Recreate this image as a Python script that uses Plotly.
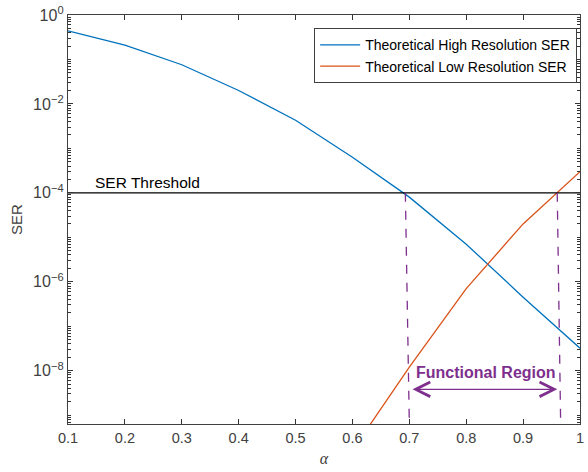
import plotly.graph_objects as go

alpha = [0.1, 0.2, 0.3, 0.4, 0.5, 0.6, 0.7, 0.8, 0.9, 1.0]
ser_high = [4.4e-1, 2.1e-1, 7.6e-2, 2.0e-2, 4.3e-3, 6.3e-4, 8.0e-5, 7.0e-6, 4.5e-7, 3.2e-8]
alpha_low = [0.6, 0.7, 0.8, 0.9, 1.0]
ser_low = [1.6e-10, 1.2e-8, 7.0e-7, 2.0e-5, 3.0e-4]
threshold = 1e-4
region_left = [0.693, 0.700]
region_right = [0.960, 0.966]
arrow_log_y = -8.42
label_log_y = -8.04

blue = "#0072BD"
orange = "#D95319"
purple = "#7E2F8E"
axc = "#404040"

fig = go.Figure()
fig.add_trace(go.Scatter(x=alpha, y=ser_high, mode="lines", line=dict(color=blue, width=1.3),
                         name="Theoretical High Resolution SER"))
fig.add_trace(go.Scatter(x=alpha_low, y=ser_low, mode="lines", line=dict(color=orange, width=1.3),
                         name="Theoretical Low Resolution SER"))
fig.add_trace(go.Scatter(x=[alpha[0], alpha[-1]], y=[threshold, threshold], mode="lines",
                         line=dict(color="black", width=1.1), showlegend=False))
for xs in (region_left, region_right):
    fig.add_trace(go.Scatter(x=xs, y=[threshold, 10 ** -9.2], mode="lines",
                             line=dict(color=purple, width=1.3, dash="dash"), showlegend=False))

fig.add_annotation(x=region_right[0], y=arrow_log_y, ax=region_left[1] + 0.003, ay=arrow_log_y,
                   xref="x", yref="y", axref="x", ayref="y", text="",
                   showarrow=True, arrowhead=5, startarrowhead=5, arrowside="end+start",
                   arrowsize=2.2, startarrowsize=2.2,
                   arrowwidth=1.3, arrowcolor=purple)
fig.add_annotation(x=0.834, y=label_log_y, xref="x", yref="y", text="<b>Functional Region</b>",
                   showarrow=False, font=dict(color=purple, size=16, family="Liberation Sans"))
fig.add_annotation(x=0.144, y=-4.0, xref="x", yref="y", text="SER Threshold", xanchor="left",
                   yanchor="bottom", showarrow=False,
                   font=dict(color="black", size=15.5, family="Liberation Sans"), yshift=0)

yvals = [1e0, 1e-2, 1e-4, 1e-6, 1e-8]
ytext = ["10<sup>0</sup>", "10<sup>\u22122</sup>", "10<sup>\u22124</sup>",
         "10<sup>\u22126</sup>", "10<sup>\u22128</sup>"]
xvals = [0.1, 0.2, 0.3, 0.4, 0.5, 0.6, 0.7, 0.8, 0.9, 1.0]
xtext = ["0.1", "0.2", "0.3", "0.4", "0.5", "0.6", "0.7", "0.8", "0.9", "1"]

fig.update_layout(
    width=588, height=472, margin=dict(l=68, r=4, t=12, b=48),
    paper_bgcolor="white", plot_bgcolor="white",
    font=dict(family="Liberation Sans", size=14, color=axc),
    legend=dict(x=0.994, y=0.968, xanchor="right", yanchor="top", bgcolor="white",
                bordercolor=axc, borderwidth=1.2, font=dict(size=14, color="black"),
                tracegroupgap=0, itemwidth=40),
    xaxis=dict(range=[0.1, 1.0], tickmode="array", tickvals=xvals, ticktext=xtext, ticks="inside",
               ticklen=5, tickwidth=1.3,
               tickcolor="#333333", showline=True, linecolor=axc, linewidth=1.3, mirror="ticks",
               showgrid=False, zeroline=False, tickfont=dict(size=14.5, color=axc),
               title=dict(text="<i>α</i>", font=dict(family="Liberation Serif", size=16, color=axc), standoff=8)),
    yaxis=dict(type="log", range=[-9.2, 0], tickmode="array", tickvals=yvals, ticktext=ytext,
               ticks="inside", ticklen=5, tickwidth=1.3,
               tickcolor="#333333", showline=True, linecolor=axc, linewidth=1.3, mirror="ticks",
               showgrid=False, zeroline=False, tickfont=dict(size=16, color=axc),
               minor=dict(ticks="inside", ticklen=3, tickcolor="#333333", tickwidth=1.1,
                          dtick="D1", showgrid=False),
               title=dict(text="SER", font=dict(size=15, color=axc), standoff=6)),
)

fig.write_html("out.html")
